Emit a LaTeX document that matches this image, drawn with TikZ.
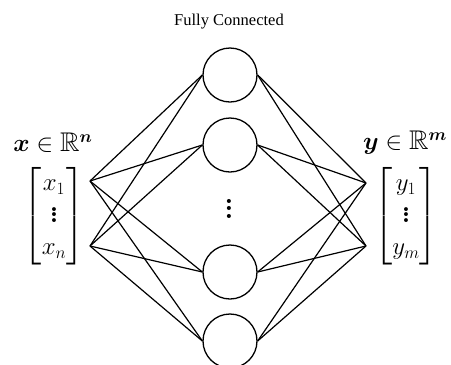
\documentclass[tikz,border=0pt]{standalone}
\usepackage{amsmath,amssymb,bm}
\usepackage{fontspec}
\setmainfont{Liberation Serif}
\newfontfamily\lmfont{Latin Modern Roman}
\newcommand\myvdots[2]{\vbox{\lmfont\bfseries\baselineskip#1\lineskiplimit0pt\kern#2\hbox{.}\hbox{.}\hbox{.}}}
\begin{document}
\begin{tikzpicture}[x=1pt,y=-1pt,
  neuron/.style={circle,draw,line width=1.3pt,minimum size=54pt,inner sep=0pt},
  conn/.style={line width=1.2pt},
  bigmath/.style={inner sep=0pt,font=\fontsize{27}{32}\selectfont}]
\useasboundingbox (0,0) rectangle (451,365);
\node (title) at (229,22) {\fontsize{16.5}{19}\selectfont Fully Connected};
\node[neuron] (c1) at (230,75) {};
\node[neuron] (c2) at (230,145) {};
\node[neuron] (c3) at (230,272) {};
\node[neuron] (c4) at (230,341) {};
\node[inner sep=0pt,font=\fontsize{28}{34}\selectfont] (dots) at (229,208.5) {\myvdots{7.5pt}{0pt}};
\coordinate (x1) at (90,181);
\coordinate (xn) at (90,246);
\coordinate (y1) at (366,183);
\coordinate (ym) at (366,246);
\node[bigmath] (xvec) at (54,216) {$\begin{bmatrix} x_1\\ \myvdots{5.5pt}{4pt}\\ x_n\end{bmatrix}$};
\node[bigmath] (yvec) at (406,216) {$\begin{bmatrix} y_1\\ \myvdots{5.5pt}{4pt}\\ y_m\end{bmatrix}$};
\node[bigmath] (xlab) at (53,143) {$\bm{x}\in\mathbb{R}^{\bm{n}}$};
\node[bigmath,anchor=west] (ylab) at (363,143) {$\bm{y}\in\mathbb{R}^{\bm{m}}$};
\foreach \c in {c1,c2,c3,c4}{
  \draw[conn] (x1) -- (\c.west);
  \draw[conn] (xn) -- (\c.west);
  \draw[conn] (\c.east) -- (y1);
  \draw[conn] (\c.east) -- (ym);
}
\end{tikzpicture}
\end{document}
